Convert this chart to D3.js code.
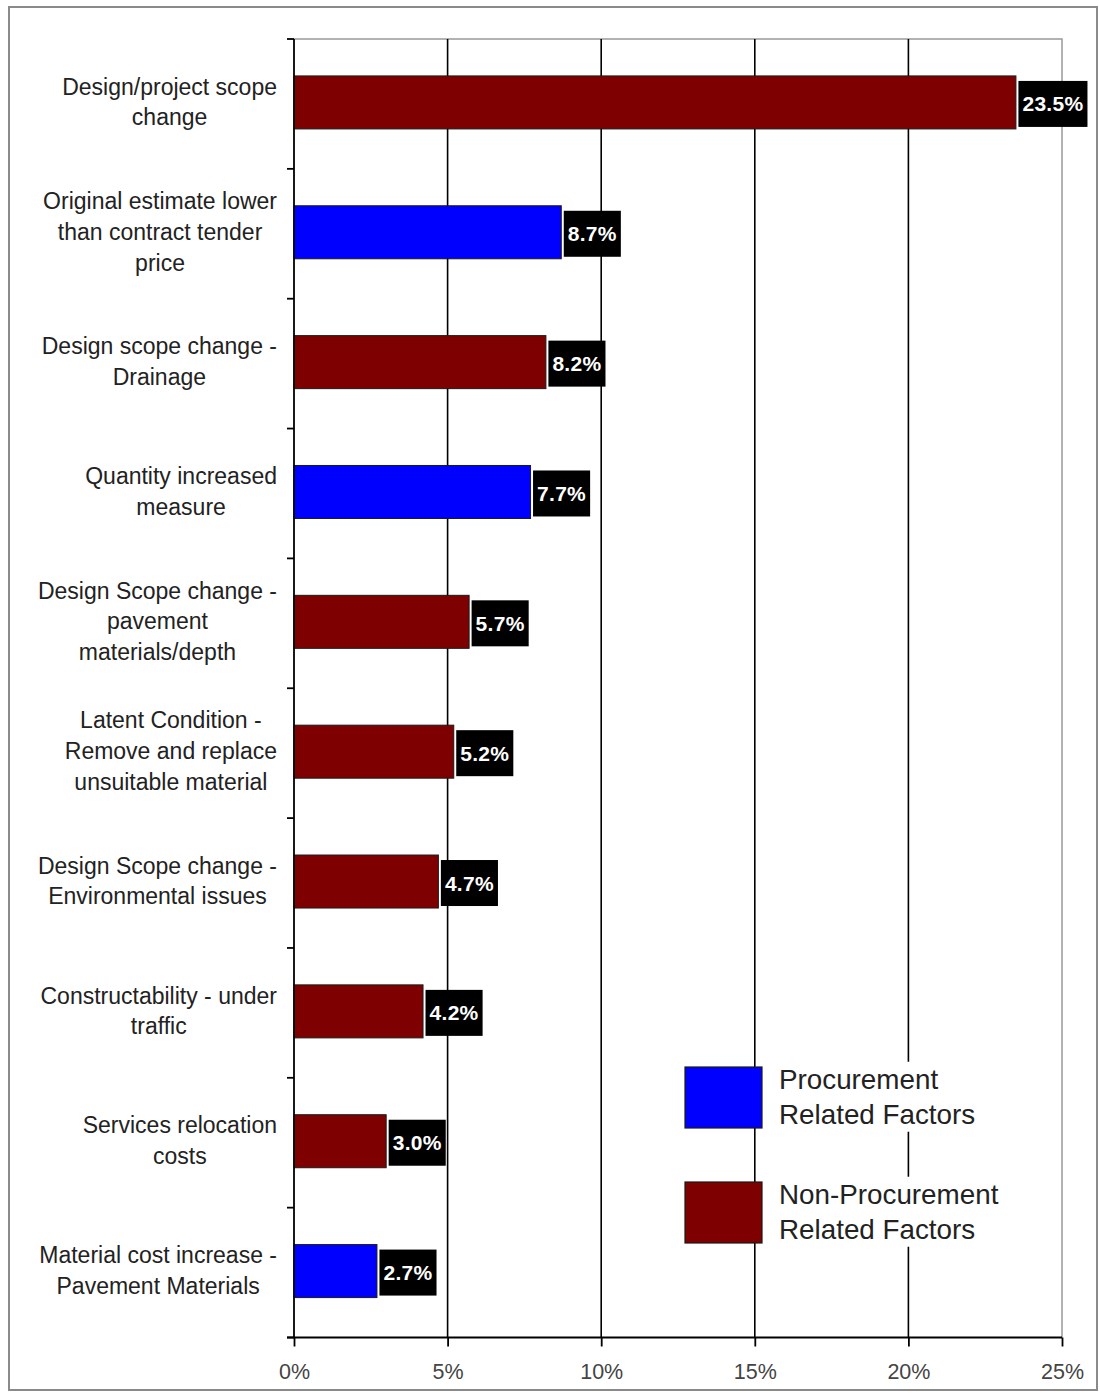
<!DOCTYPE html>
<html>
<head>
<meta charset="utf-8">
<script src="https://cdn.jsdelivr.net/npm/d3@7"></script>
<style>
  html, body { margin: 0; padding: 0; background: #fff; }
  svg { display: block; font-family: "Liberation Sans", Arial, sans-serif; }
</style>
</head>
<body>
<svg id="chart" width="1100" height="1396"></svg>
<script>
// Cost overrun causes (share of total), top to bottom
const categories = [
  ["Design/project scope", "change"],
  ["Original estimate lower", "than contract tender", "price"],
  ["Design scope change -", "Drainage"],
  ["Quantity increased", "measure"],
  ["Design Scope change -", "pavement", "materials/depth"],
  ["Latent Condition -", "Remove and replace", "unsuitable material"],
  ["Design Scope change -", "Environmental issues"],
  ["Constructability - under", "traffic"],
  ["Services relocation", "costs"],
  ["Material cost increase -", "Pavement Materials"]
];
const values = [23.5, 8.7, 8.2, 7.7, 5.7, 5.2, 4.7, 4.2, 3.0, 2.7];
const factorType = ["non", "proc", "non", "proc", "non", "non", "non", "non", "non", "proc"];
const xTicks = [0, 5, 10, 15, 20, 25];
const legendItems = [
  { key: "proc", lines: ["Procurement", "Related Factors"] },
  { key: "non", lines: ["Non-Procurement", "Related Factors"] }
];

const colors = { proc: "#0000ff", non: "#7f0000" };

const svg = d3.select("#chart");

// outer frame
svg.append("rect")
  .attr("x", 9).attr("y", 7).attr("width", 1088).attr("height", 1383)
  .attr("fill", "#fff").attr("stroke", "#8a8a8a").attr("stroke-width", 2);

const plot = { left: 294, right: 1062, top: 39, bottom: 1337.5 };

const x = d3.scaleLinear().domain([0, 25]).range([plot.left, plot.right]);
const y = d3.scaleBand().domain(d3.range(categories.length))
  .range([plot.top, plot.bottom]).paddingInner(0).paddingOuter(0);

// plot area top/right border
svg.append("path")
  .attr("d", `M${plot.left},${plot.top}H${plot.right}V${plot.bottom}`)
  .attr("fill", "none").attr("stroke", "#999").attr("stroke-width", 1.5);

// vertical gridlines
svg.append("g").selectAll("line")
  .data(xTicks.filter(t => t > 0 && t < 25))
  .join("line")
  .attr("x1", d => x(d)).attr("x2", d => x(d))
  .attr("y1", plot.top).attr("y2", plot.bottom)
  .attr("stroke", "#000").attr("stroke-width", 1.6);

// bars
const barH = 53;
const bars = svg.append("g");
bars.selectAll("rect")
  .data(values)
  .join("rect")
  .attr("x", x(0))
  .attr("y", (d, i) => y(i) + y.bandwidth() / 2 - barH / 2 - 1.5)
  .attr("width", d => x(d) - x(0))
  .attr("height", barH)
  .attr("fill", (d, i) => colors[factorType[i]])
  .attr("stroke", "#1a1a1a").attr("stroke-width", 1);

// value labels in black boxes
const valG = svg.append("g");
values.forEach((v, i) => {
  const cy = y(i) + y.bandwidth() / 2;
  const g = valG.append("g");
  const box = g.append("rect").attr("fill", "#000");
  const t = g.append("text")
    .attr("y", cy)
    .attr("dy", "0.36em")
    .attr("fill", "#fff")
    .attr("font-weight", "bold")
    .attr("font-size", 21)
    .attr("letter-spacing", 0.3)
    .text(v.toFixed(1) + "%");
  const bx = x(v) + 2.5;
  const w = t.node().getComputedTextLength();
  t.attr("x", bx + 4);
  box.attr("x", bx).attr("y", cy - 23).attr("width", w + 8).attr("height", 46);
});

// y axis line and ticks
svg.append("line")
  .attr("x1", plot.left).attr("x2", plot.left)
  .attr("y1", plot.top).attr("y2", plot.bottom)
  .attr("stroke", "#000").attr("stroke-width", 1.8);
svg.append("g").selectAll("line")
  .data(d3.range(categories.length + 1))
  .join("line")
  .attr("x1", plot.left - 7).attr("x2", plot.left)
  .attr("y1", d => d < categories.length ? y(d) : plot.bottom)
  .attr("y2", d => d < categories.length ? y(d) : plot.bottom)
  .attr("stroke", "#000").attr("stroke-width", 1.8);

// x axis
const xAxis = svg.append("g")
  .attr("transform", `translate(0,${plot.bottom})`)
  .call(d3.axisBottom(x).tickValues(xTicks).tickFormat(d => d + "%").tickSize(9).tickSizeOuter(0));
xAxis.select(".domain").remove();
xAxis.selectAll(".tick line").attr("stroke", "#000").attr("stroke-width", 1.8);
xAxis.selectAll(".tick text")
  .attr("font-family", "Liberation Sans, Arial, sans-serif")
  .attr("font-size", 21.5).attr("fill", "#444").attr("dy", "1.35em");
svg.append("line")
  .attr("x1", plot.left - 7).attr("x2", plot.right)
  .attr("y1", plot.bottom).attr("y2", plot.bottom)
  .attr("stroke", "#000").attr("stroke-width", 1.8);

// category labels: centered block whose widest line ends at the axis gap
const labelRight = 277;
const lineH = 30.8;
const labG = svg.append("g");
categories.forEach((lines, i) => {
  const cy = y(i) + y.bandwidth() / 2 - 2;
  const t = labG.append("text")
    .attr("font-size", 23).attr("fill", "#222").attr("text-anchor", "middle");
  lines.forEach((ln, k) => {
    t.append("tspan")
      .attr("y", cy + (k - (lines.length - 1) / 2) * lineH)
      .attr("dy", "0.35em")
      .text(ln);
  });
  let maxW = 0;
  t.selectAll("tspan").each(function () { maxW = Math.max(maxW, this.getComputedTextLength()); });
  t.selectAll("tspan").attr("x", labelRight - maxW / 2);
});

// legend
const legX = 685, legTop = [1067, 1182];
legendItems.forEach((item, i) => {
  const g = svg.append("g");
  const ty = legTop[i];
  // text sits on a white panel
  const t = g.append("text").attr("font-size", 27.8).attr("fill", "#222");
  item.lines.forEach((ln, k) => {
    t.append("tspan").attr("x", 779).attr("y", ty + 12 + k * 35).attr("dy", "0.35em").text(ln);
  });
  const bb = t.node().getBBox();
  g.insert("rect", "text")
    .attr("x", bb.x - 4).attr("y", bb.y - 2).attr("width", bb.width + 8).attr("height", bb.height + 4)
    .attr("fill", "#fff");
  g.append("rect")
    .attr("x", legX).attr("y", ty).attr("width", 77).attr("height", 61)
    .attr("fill", colors[item.key]).attr("stroke", "#1a1a1a").attr("stroke-width", 1.2);
});
</script>
</body>
</html>
